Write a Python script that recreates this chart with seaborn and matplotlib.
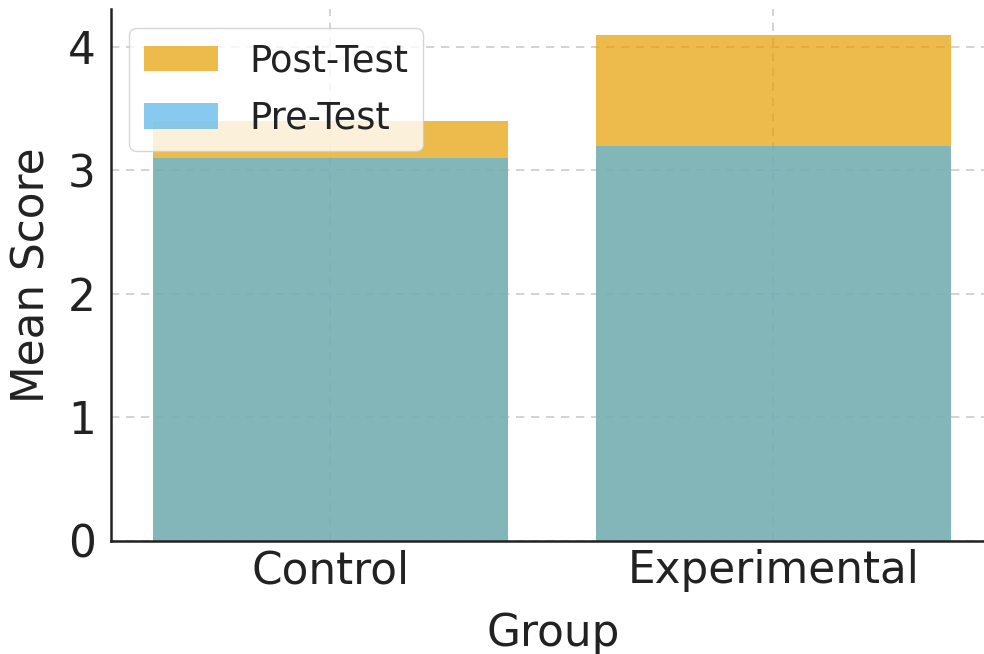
import matplotlib
matplotlib.use("Agg")
import matplotlib.pyplot as plt
import seaborn as sns
import pandas as pd

groups = ["Control", "Experimental"]
pre_test = [3.1, 3.2]
post_test = [3.4, 4.1]

sns.set_theme(style="whitegrid")
plt.rcParams['font.family'] = ['DejaVu Sans']

fig = plt.figure(figsize=(9.84, 6.54), dpi=100)
ax = fig.add_axes([111/984, (654-541)/654, 884/984, (541-9.3)/654])

df = pd.DataFrame({"Group": groups, "Pre": pre_test, "Post": post_test})

sns.barplot(data=df, x="Group", y="Post", color="#E69F00", alpha=0.7,
            saturation=1, label="Post-Test", linewidth=0, ax=ax)
sns.barplot(data=df, x="Group", y="Pre", color="#56B4E9", alpha=0.7,
            saturation=1, label="Pre-Test", linewidth=0, ax=ax)

ax.set_xlim(-0.495, 1.5)
ax.set_ylim(0, 4.305)
ax.set_yticks([0, 1, 2, 3, 4])

ax.grid(True, linestyle=(0, (5, 4)), color="#cccccc", linewidth=1.2)
ax.set_axisbelow(True)

for s in ["top", "right"]:
    ax.spines[s].set_visible(False)
for s in ["left", "bottom"]:
    ax.spines[s].set_visible(True)
    ax.spines[s].set_color("#222222")
    ax.spines[s].set_linewidth(1.8)

ax.tick_params(axis="both", direction="in", length=8.5, width=1.4,
               colors="#222222", labelsize=31.5, labelcolor="#222222")
ax.tick_params(axis="y", pad=11)
ax.tick_params(axis="x", pad=6)

ax.set_xlabel("Group", fontsize=31.5, color="#222222", labelpad=14)
ax.set_ylabel("Mean Score", fontsize=31.5, color="#222222", labelpad=10)

leg = ax.legend(loc="upper left", fontsize=26.5, frameon=True, framealpha=0.8,
                edgecolor="#cccccc", handlelength=2.0, handletextpad=0.85,
                labelspacing=0.55, borderaxespad=0.5)
for t in leg.get_texts():
    t.set_color("#222222")

fig.savefig("out.png", dpi=100)
